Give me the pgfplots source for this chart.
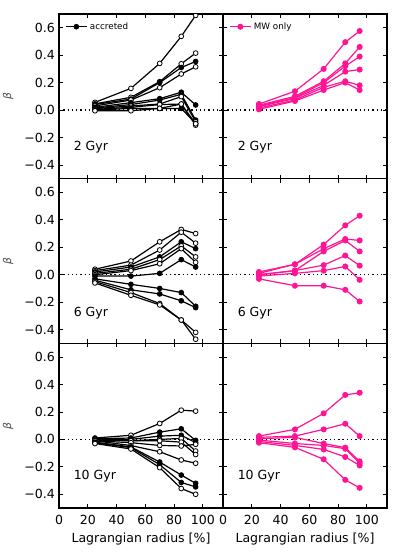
\documentclass[border=0pt]{standalone}
\usepackage{fontspec}
\setmainfont{DejaVu Sans}
\usepackage{pgfplots}
\pgfplotsset{compat=1.18}
\usepgfplotslibrary{groupplots}
\definecolor{mwpink}{RGB}{255,20,147}

\pgfplotsset{
  op/.style={black, line width=0.9pt, mark=*, mark size=1.8pt, mark options={solid, fill=white, draw=black, line width=0.6pt}},
  fi/.style={black, line width=0.9pt, mark=*, mark size=1.8pt, mark options={solid, fill=black, line width=0.6pt}},
  mw/.style={mwpink, line width=0.9pt, mark=*, mark size=1.8pt, mark options={solid, fill=mwpink, draw=mwpink}},
  zero/.style={black, line width=1pt, dash pattern=on 1pt off 2.2pt},
}

\begin{document}
\begin{tikzpicture}
\begin{groupplot}[
  group style={group size=2 by 3, horizontal sep=0pt, vertical sep=0pt,
    xticklabels at=edge bottom, yticklabels at=edge left},
  scale only axis, width=123pt, height=123.5pt,
  xmin=0, xmax=114, ymin=-0.5, ymax=0.7,
  xtick={0,20,...,100},
  ytick={-0.4,-0.2,0,0.2,0.4,0.6},
  yticklabels={−0.4,−0.2,0.0,0.2,0.4,0.6},
  tick align=inside, major tick length=3pt,
  every tick/.style={black, line width=0.6pt},
  axis line style={line width=0.9pt},
  /pgf/number format/assume math mode=true,
  ticklabel style={font=\fontsize{9.4}{11}\selectfont},
  yticklabel style={inner sep=0pt, xshift=-3pt},
  xticklabel style={inner sep=0pt, yshift=-5pt},
  xlabel style={font=\fontsize{9.4}{11}\selectfont, at={(axis description cs:0.5,0)}, anchor=north, yshift=-18.5pt, inner sep=0pt},
  ylabel style={font=\fontsize{8}{9}\selectfont, text=black!70, at={(axis description cs:-0.31,0.5)}, anchor=center, inner sep=0pt},
  legend style={draw=none, fill=none, at={(0.03,0.975)}, anchor=north west,
    font=\fontsize{6.6}{7}\selectfont, inner sep=1pt},
  legend image code/.code={\draw[mark repeat=2, mark phase=2] plot coordinates {(0cm,0cm) (0.27cm,0cm) (0.54cm,0cm)};},
  clip marker paths=true,
]
% ---- 2 Gyr, accreted
\nextgroupplot[ylabel={\itshape β}]
\addlegendimage{fi}
\addlegendentry{accreted}
\addplot[zero] coordinates {(0,0) (114,0)};
\addplot[op] coordinates {(25,0.056)(50,0.158)(70,0.34)(85,0.537)(95,0.69)};
\addplot[op] coordinates {(25,0.045)(50,0.093)(70,0.207)(85,0.337)(95,0.415)};
\addplot[fi] coordinates {(25,0.04)(50,0.08)(70,0.2)(85,0.31)(95,0.354)};
\addplot[op] coordinates {(25,0.03)(50,0.073)(70,0.163)(85,0.263)(95,0.315)};
\addplot[fi] coordinates {(25,0.02)(50,0.054)(70,0.083)(85,0.13)(95,0.037)};
\addplot[fi] coordinates {(25,0.015)(50,0.04)(70,0.073)(85,0.115)(95,-0.073)};
\addplot[op] coordinates {(25,0.01)(50,0.03)(70,0.044)(85,0.098)(95,-0.085)};
\addplot[op] coordinates {(25,0.005)(50,0.02)(70,0.04)(85,0.044)(95,-0.11)};
\addplot[fi] coordinates {(25,0.0)(50,0.012)(70,0.012)(85,0.012)(95,-0.098)};
\addplot[op] coordinates {(25,-0.005)(50,-0.005)(70,0.012)(85,0.044)(95,-0.10)};
\node[anchor=west, font=\fontsize{9.4}{11}\selectfont] at (axis cs:7,-0.27) {2 Gyr};

% ---- 2 Gyr, MW only
\nextgroupplot
\addlegendimage{mw}
\addlegendentry{MW only}
\addplot[zero] coordinates {(0,0) (114,0)};
\addplot[mw] coordinates {(25,0.044)(50,0.137)(70,0.30)(85,0.495)(95,0.576)};
\addplot[mw] coordinates {(25,0.035)(50,0.10)(70,0.21)(85,0.34)(95,0.46)};
\addplot[mw] coordinates {(25,0.03)(50,0.09)(70,0.20)(85,0.32)(95,0.39)};
\addplot[mw] coordinates {(25,0.025)(50,0.085)(70,0.18)(85,0.28)(95,0.295)};
\addplot[mw] coordinates {(25,0.015)(50,0.073)(70,0.166)(85,0.21)(95,0.18)};
\addplot[mw] coordinates {(25,0.005)(50,0.066)(70,0.146)(85,0.20)(95,0.146)};
\node[anchor=west, font=\fontsize{9.4}{11}\selectfont] at (axis cs:7,-0.27) {2 Gyr};

% ---- 6 Gyr, accreted
\nextgroupplot[ylabel={\itshape β}]
\addplot[zero] coordinates {(0,0) (114,0)};
\addplot[op] coordinates {(25,0.04)(50,0.10)(70,0.24)(85,0.33)(95,0.30)};
\addplot[op] coordinates {(25,0.03)(50,0.07)(70,0.18)(85,0.31)(95,0.23)};
\addplot[fi] coordinates {(25,0.02)(50,0.056)(70,0.13)(85,0.24)(95,0.19)};
\addplot[op] coordinates {(25,0.01)(50,0.04)(70,0.11)(85,0.21)(95,0.13)};
\addplot[op] coordinates {(25,0.0)(50,0.03)(70,0.08)(85,0.19)(95,0.09)};
\addplot[fi] coordinates {(25,-0.01)(50,-0.01)(70,0.01)(85,0.11)(95,0.056)};
\addplot[fi] coordinates {(25,-0.03)(50,-0.07)(70,-0.10)(85,-0.13)(95,-0.23)};
\addplot[fi] coordinates {(25,-0.04)(50,-0.11)(70,-0.14)(85,-0.19)(95,-0.24)};
\addplot[op] coordinates {(25,-0.05)(50,-0.13)(70,-0.21)(85,-0.33)(95,-0.42)};
\addplot[op] coordinates {(25,-0.06)(50,-0.15)(70,-0.22)(85,-0.33)(95,-0.47)};
\node[anchor=west, font=\fontsize{9.4}{11}\selectfont] at (axis cs:7,-0.28) {6 Gyr};

% ---- 6 Gyr, MW only
\nextgroupplot
\addplot[zero] coordinates {(0,0) (114,0)};
\addplot[mw] coordinates {(25,0.02)(50,0.076)(70,0.22)(85,0.36)(95,0.43)};
\addplot[mw] coordinates {(25,0.01)(50,0.076)(70,0.19)(85,0.26)(95,0.25)};
\addplot[mw] coordinates {(25,0.0)(50,0.03)(70,0.17)(85,0.25)(95,0.17)};
\addplot[mw] coordinates {(25,0.0)(50,0.03)(70,0.07)(85,0.14)(95,0.066)};
\addplot[mw] coordinates {(25,-0.01)(50,0.01)(70,0.03)(85,0.06)(95,-0.037)};
\addplot[mw] coordinates {(25,-0.03)(50,-0.08)(70,-0.08)(85,-0.11)(95,-0.195)};
\node[anchor=west, font=\fontsize{9.4}{11}\selectfont] at (axis cs:7,-0.28) {6 Gyr};

% ---- 10 Gyr, accreted
\nextgroupplot[ylabel={\itshape β}, xlabel={Lagrangian radius [\%]}]
\addplot[zero] coordinates {(0,0) (114,0)};
\addplot[op] coordinates {(25,0.01)(50,0.03)(70,0.116)(85,0.213)(95,0.206)};
\addplot[fi] coordinates {(25,0.005)(50,0.01)(70,0.053)(85,0.077)(95,-0.007)};
\addplot[fi] coordinates {(25,0.0)(50,0.0)(70,0.024)(85,0.03)(95,-0.024)};
\addplot[op] coordinates {(25,0.0)(50,-0.01)(70,0.0)(85,0.007)(95,-0.085)};
\addplot[op] coordinates {(25,-0.005)(50,-0.01)(70,-0.01)(85,-0.02)(95,-0.11)};
\addplot[op] coordinates {(25,-0.01)(50,-0.024)(70,-0.044)(85,-0.048)(95,-0.036)};
\addplot[op] coordinates {(25,-0.01)(50,-0.045)(70,-0.09)(85,-0.15)(95,-0.174)};
\addplot[fi] coordinates {(25,-0.02)(50,-0.055)(70,-0.165)(85,-0.26)(95,-0.32)};
\addplot[fi] coordinates {(25,-0.025)(50,-0.06)(70,-0.184)(85,-0.314)(95,-0.346)};
\addplot[op] coordinates {(25,-0.03)(50,-0.07)(70,-0.206)(85,-0.358)(95,-0.40)};
\node[anchor=west, font=\fontsize{9.4}{11}\selectfont] at (axis cs:7,-0.27) {10 Gyr};

% ---- 10 Gyr, MW only
\nextgroupplot[xlabel={Lagrangian radius [\%]}]
\addplot[zero] coordinates {(0,0) (114,0)};
\addplot[mw] coordinates {(25,0.024)(50,0.073)(70,0.19)(85,0.324)(95,0.34)};
\addplot[mw] coordinates {(25,0.015)(50,0.024)(70,0.073)(85,0.114)(95,0.024)};
\addplot[mw] coordinates {(25,0.005)(50,0.015)(70,-0.03)(85,-0.06)(95,-0.16)};
\addplot[mw] coordinates {(25,-0.005)(50,-0.03)(70,-0.044)(85,-0.068)(95,-0.174)};
\addplot[mw] coordinates {(25,-0.015)(50,-0.044)(70,-0.073)(85,-0.128)(95,-0.19)};
\addplot[mw] coordinates {(25,-0.024)(50,-0.058)(70,-0.145)(85,-0.295)(95,-0.353)};
\node[anchor=west, font=\fontsize{9.4}{11}\selectfont] at (axis cs:7,-0.27) {10 Gyr};
\end{groupplot}
% page extent matching the reference margins
\path ([xshift=-44.25pt, yshift=10.5pt]group c1r1.north west) rectangle ([xshift=9pt, yshift=-36pt]group c2r3.south east);
\end{tikzpicture}
\end{document}
